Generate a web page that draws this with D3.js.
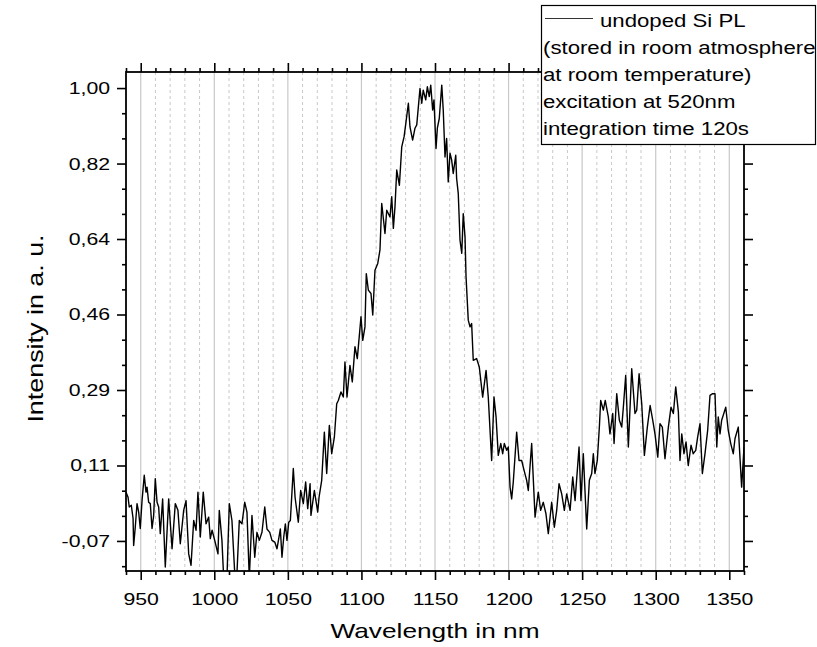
<!DOCTYPE html>
<html>
<head>
<meta charset="utf-8">
<script src="https://cdn.jsdelivr.net/npm/d3@7"></script>
<style>
  body { margin: 0; background: #fff; }
  svg text { font-family: Arial, "Liberation Sans", sans-serif; fill: #000; }
</style>
</head>
<body>
<svg id="chart" width="817" height="647"></svg>
<script>
// PL spectrum (wavelength in nm, intensity in a.u.)
const wavelength = [940.0,941.4,942.2,943.6,944.8,945.2,946.3,947.5,948.6,949.7,950.9,952.4,953.6,954.3,955.4,956.5,957.7,958.8,959.9,961.1,
  962.2,963.3,964.9,966.7,969.0,971.3,973.5,975.3,976.9,979.2,980.8,982.6,984.2,986.0,987.6,988.9,990.5,992.5,994.4,996.2,
  997.3,998.5,1000.3,1002.5,1003.4,1005.2,1006.4,1008.6,1010.2,1012.0,1013.9,1015.4,1017.0,1018.8,1020.7,1022.2,1023.8,1025.6,1027.5,1029.0,
  1030.6,1032.4,1034.3,1035.8,1037.7,1039.2,1041.1,1042.6,1043.8,1044.9,1046.0,1047.2,1048.3,1049.4,1050.6,1051.7,1053.7,1054.9,1057.1,1058.7,
  1060.5,1062.1,1063.5,1065.1,1065.7,1068.0,1070.3,1071.2,1073.0,1074.8,1076.4,1078.2,1079.8,1081.6,1083.2,1084.3,1086.1,1087.7,1088.8,1090.2,
  1092.2,1093.8,1095.6,1097.2,1099.7,1100.9,1102.4,1103.3,1104.7,1106.5,1107.7,1109.2,1111.1,1112.6,1113.8,1116.0,1117.2,1119.4,1120.6,1121.7,
  1122.8,1124.0,1125.8,1127.4,1129.0,1130.3,1131.9,1133.0,1134.8,1136.4,1137.6,1138.7,1139.8,1141.0,1142.0,1143.7,1144.8,1146.1,1147.1,1148.4,
  1149.3,1150.7,1151.6,1152.9,1154.6,1155.6,1156.8,1157.9,1159.0,1160.2,1161.3,1162.4,1164.1,1164.7,1165.8,1167.0,1168.2,1169.2,1170.4,1171.1,
  1172.6,1173.8,1174.9,1176.0,1178.3,1180.1,1182.4,1184.7,1186.2,1188.5,1190.1,1191.5,1193.0,1194.7,1196.0,1197.1,1198.7,1199.8,1201.0,1202.1,
  1203.2,1205.5,1207.1,1208.9,1210.5,1212.3,1213.4,1215.7,1218.0,1220.2,1221.8,1223.6,1225.4,1227.0,1229.3,1231.1,1232.7,1234.3,1236.1,1237.9,
  1239.5,1241.8,1243.6,1245.2,1247.9,1249.2,1250.8,1253.1,1254.9,1256.5,1257.6,1258.7,1260.3,1261.7,1262.6,1264.4,1265.7,1267.8,1268.9,1270.8,
  1271.7,1273.5,1275.3,1276.9,1278.0,1279.6,1281.4,1283.7,1285.9,1287.1,1288.7,1290.5,1292.3,1294.3,1296.2,1298.0,1299.5,1301.4,1302.9,1304.5,
  1306.3,1308.6,1310.4,1312.0,1313.6,1315.4,1316.5,1317.7,1319.2,1320.6,1322.1,1324.0,1325.5,1327.2,1328.5,1330.1,1331.7,1333.5,1335.3,1336.9,
  1338.7,1340.3,1341.5,1342.5,1343.7,1344.8,1345.9,1347.6,1349.3,1351.0,1352.7,1353.9,1356.1,1358.4,1360.0];

const intensity = [0.044,0.032,0.009,0.013,-0.018,-0.082,-0.039,0.017,-0.003,-0.042,0.024,0.084,0.044,0.056,0.020,0.017,-0.042,-0.011,0.076,0.020,
  0.009,-0.054,0.028,-0.133,0.028,-0.090,0.017,0.001,-0.078,0.001,0.024,-0.102,-0.129,-0.023,-0.046,0.044,-0.062,0.044,-0.031,-0.015,
  -0.066,-0.046,-0.070,-0.102,0.001,-0.070,-0.160,-0.160,0.017,-0.023,-0.148,-0.148,-0.023,-0.031,0.020,-0.003,-0.160,-0.011,-0.110,-0.051,
  -0.070,-0.051,0.009,-0.043,-0.051,-0.070,-0.074,-0.090,-0.066,-0.043,-0.110,-0.062,-0.031,-0.070,-0.027,-0.023,0.100,0.032,-0.027,0.048,
  0.017,0.068,0.005,0.064,-0.011,0.048,-0.003,0.032,0.072,0.186,0.088,0.202,0.135,0.174,0.253,0.261,0.281,0.269,0.352,0.269,
  0.344,0.305,0.388,0.360,0.459,0.403,0.435,0.561,0.522,0.514,0.463,0.569,0.585,0.617,0.727,0.656,0.711,0.695,0.743,0.668,
  0.719,0.806,0.770,0.861,0.885,0.920,0.964,0.908,0.877,0.905,0.913,0.956,0.999,0.964,0.995,0.972,1.003,0.980,1.007,0.948,
  0.972,0.857,0.905,0.928,1.007,0.948,0.837,0.881,0.778,0.846,0.830,0.798,0.841,0.786,0.751,0.640,0.609,0.703,0.648,0.553,
  0.451,0.435,0.443,0.356,0.360,0.340,0.269,0.332,0.269,0.119,0.269,0.222,0.131,0.159,0.135,0.159,0.143,0.151,0.056,0.028,
  0.068,0.186,0.119,0.119,0.096,0.072,0.048,0.159,-0.015,0.044,0.001,0.020,-0.007,-0.054,0.020,-0.039,0.001,0.064,0.040,0.001,
  0.040,0.001,0.080,0.024,0.151,0.024,0.135,-0.043,0.072,0.088,0.135,0.088,0.119,0.198,0.261,0.238,0.261,0.222,0.182,0.230,
  0.159,0.277,0.214,0.198,0.245,0.320,0.151,0.336,0.230,0.238,0.324,0.253,0.131,0.198,0.249,0.214,0.182,0.127,0.206,0.198,
  0.123,0.198,0.245,0.230,0.293,0.234,0.119,0.182,0.135,0.163,0.107,0.155,0.135,0.143,0.174,0.206,0.088,0.135,0.190,0.273,
  0.277,0.277,0.151,0.222,0.182,0.214,0.226,0.245,0.190,0.159,0.135,0.171,0.198,0.056,0.151];

const xTicks = [950, 1000, 1050, 1100, 1150, 1200, 1250, 1300, 1350];
const yTicks = [1.0, 0.8214, 0.6429, 0.4643, 0.2857, 0.1071, -0.0714];
const yTickLabels = ["1,00", "0,82", "0,64", "0,46", "0,29", "0,11", "-0,07"];
const legendLines = ["undoped Si PL", "(stored in room atmosphere", "at room temperature)",
  "excitation at 520nm", "integration time 120s"];

const margin = { top: 72, right: 73, bottom: 76, left: 126 },
    width = 817 - margin.left - margin.right,
    height = 647 - margin.top - margin.bottom;

const sx = 1.25; // glyphs in the picture are wider than plain Arial

const x = d3.scaleLinear().domain([940, 1360]).range([0, width]);
const y = d3.scaleLinear().domain([-0.1425, 1.038]).range([height, 0]);

const svg = d3.select("#chart");
const g = svg.append("g").attr("transform", `translate(${margin.left},${margin.top})`);

// minor x positions every 10 nm, y minors at thirds of a major step
const xMinor = d3.range(940, 1361, 10).filter(v => v % 50 !== 0);
const yStep = yTicks[0] - yTicks[1];
const yMinor = d3.range(-3, 24).map(i => yTicks[0] - i * yStep / 3)
  .filter((v, i) => (i % 3 !== 0) && v > -0.1425 && v < 1.038);

// grid
g.append("g").selectAll("line")
  .data(xMinor.filter(v => v > 940 && v < 1360))
  .join("line")
  .attr("x1", d => x(d)).attr("x2", d => x(d))
  .attr("y1", 0).attr("y2", height)
  .attr("stroke", "#c8c8c8").attr("stroke-width", 1)
  .attr("stroke-dasharray", "3,3");

g.append("g").selectAll("line")
  .data(xTicks)
  .join("line")
  .attr("x1", d => x(d)).attr("x2", d => x(d))
  .attr("y1", 0).attr("y2", height)
  .attr("stroke", "#c8c8c8").attr("stroke-width", 1.2);

// spectrum
g.append("clipPath").attr("id", "clip")
  .append("rect").attr("width", width).attr("height", height);

const data = wavelength.map((w, i) => ({ w: w, v: intensity[i] }));

g.append("path")
  .datum(data)
  .attr("clip-path", "url(#clip)")
  .attr("fill", "none")
  .attr("stroke", "#000")
  .attr("stroke-width", 1.4)
  .attr("stroke-linejoin", "round")
  .attr("d", d3.line().x(d => x(d.w)).y(d => y(d.v)));

// axes
function styleAxis(sel) {
  sel.select(".domain").remove();
  sel.selectAll(".tick line").attr("stroke", "#000").attr("stroke-width", 1.6);
}

g.append("g").attr("transform", `translate(0,${height})`)
  .call(d3.axisBottom(x).tickValues(xMinor).tickSize(4).tickFormat(""))
  .call(styleAxis);
const xAxis = g.append("g").attr("transform", `translate(0,${height})`)
  .call(d3.axisBottom(x).tickValues(xTicks).tickSize(9).tickPadding(13).tickFormat(d3.format("d")))
  .call(styleAxis);
xAxis.selectAll("text").attr("font-size", "17px").attr("transform", `scale(${sx},1)`);

g.append("g")
  .call(d3.axisTop(x).tickValues(xMinor).tickSize(4).tickFormat(""))
  .call(styleAxis);
g.append("g")
  .call(d3.axisTop(x).tickValues(xTicks).tickSize(9).tickFormat(""))
  .call(styleAxis);

g.append("g")
  .call(d3.axisLeft(y).tickValues(yMinor).tickSize(4).tickFormat(""))
  .call(styleAxis);
const yAxis = g.append("g")
  .call(d3.axisLeft(y).tickValues(yTicks).tickSize(9).tickFormat((d, i) => yTickLabels[i]))
  .call(styleAxis);
yAxis.selectAll("text").attr("font-size", "17px")
  .attr("x", -16 / sx).attr("transform", `scale(${sx},1)`);

g.append("g").attr("transform", `translate(${width},0)`)
  .call(d3.axisRight(y).tickValues(yMinor).tickSize(4).tickFormat(""))
  .call(styleAxis);
g.append("g").attr("transform", `translate(${width},0)`)
  .call(d3.axisRight(y).tickValues(yTicks).tickSize(9).tickFormat(""))
  .call(styleAxis);

// frame
g.append("rect")
  .attr("width", width).attr("height", height)
  .attr("fill", "none").attr("stroke", "#000").attr("stroke-width", 1.8);

// axis titles
svg.append("text")
  .attr("transform", `translate(${margin.left + width / 2},638) scale(${sx},1)`)
  .attr("text-anchor", "middle")
  .attr("font-size", "21px")
  .text("Wavelength in nm");

svg.append("text")
  .attr("transform", `translate(43,${margin.top + height / 2 + 7}) rotate(-90) scale(${sx},1)`)
  .attr("text-anchor", "middle")
  .attr("font-size", "21.5px")
  .text("Intensity in a. u.");

// legend box sits on top of the frame corner
const legend = svg.append("g");
legend.append("rect")
  .attr("x", 541.5).attr("y", 5.5).attr("width", 274).attr("height", 139)
  .attr("fill", "#fff").attr("stroke", "#000").attr("stroke-width", 1.2);
legend.append("line")
  .attr("x1", 545).attr("x2", 593).attr("y1", 18.5).attr("y2", 18.5)
  .attr("stroke", "#333").attr("stroke-width", 1);
legend.selectAll("text.leg")
  .data(legendLines)
  .join("text")
  .attr("class", "leg")
  .attr("font-size", "18.5px")
  .attr("transform", (d, i) => `translate(${i === 0 ? 600 : 543},${26.5 + i * 27}) scale(1.2,1)`)
  .text(d => d);
</script>
</body>
</html>
